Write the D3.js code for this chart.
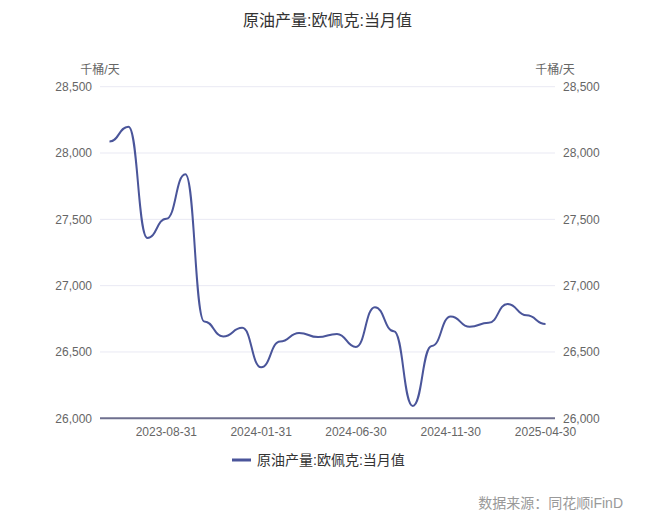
<!DOCTYPE html>
<html><head><meta charset="utf-8">
<script src="https://cdn.jsdelivr.net/npm/d3@7/dist/d3.min.js"></script>
<style>
html,body{margin:0;padding:0;background:#fff;}
svg{display:block;font-family:"Liberation Sans","Noto Sans CJK SC",sans-serif;}
</style></head>
<body><svg id="c" width="655" height="519"></svg>
<script>
const categories = ["2023-05-31","2023-06-30","2023-07-31","2023-08-31","2023-09-30","2023-10-31","2023-11-30","2023-12-31",
  "2024-01-31","2024-02-29","2024-03-31","2024-04-30","2024-05-31","2024-06-30","2024-07-31","2024-08-31","2024-09-30",
  "2024-10-31","2024-11-30","2024-12-31","2025-01-31","2025-02-28","2025-03-31","2025-04-30"];
const values = [28086,28199,27360,27505,27840,26730,26617,26682,26384,26579,26644,26612,26636,26538,26838,26656,26093,
  26545,26768,26690,26720,26862,26776,26711];
const xTickLabels = ["2023-08-31","2024-01-31","2024-06-30","2024-11-30","2025-04-30"];
const yTicks = [26000,26500,27000,27500,28000,28500];
const title = "原油产量:欧佩克:当月值";
const seriesName = "原油产量:欧佩克:当月值";
const unit = "千桶/天";
const source = "数据来源：同花顺iFinD";

const svg = d3.select("#c");
const L = 100, R = 555, T = 86.7, B = 418.3;
const x = d3.scalePoint().domain(categories).range([L, R]).padding(0.5);
const y = d3.scaleLinear().domain([26000, 28500]).range([B, T]);

// grid
svg.append("g").selectAll("line").data(yTicks.filter(v => v !== 26000)).join("line")
  .attr("x1", L).attr("x2", R).attr("y1", d => y(d)).attr("y2", d => y(d))
  .attr("stroke", "#e9e9f3").attr("stroke-width", 1);

// y labels left and right
const fmt = d3.format(",");
svg.append("g").selectAll("text").data(yTicks).join("text")
  .attr("x", L - 8).attr("y", d => y(d)).attr("dy", "0.35em").attr("text-anchor", "end")
  .attr("font-size", 12).attr("fill", "#666").text(d => fmt(d));
svg.append("g").selectAll("text").data(yTicks).join("text")
  .attr("x", R + 8).attr("y", d => y(d)).attr("dy", "0.35em").attr("text-anchor", "start")
  .attr("font-size", 12).attr("fill", "#666").text(d => fmt(d));

// axis names
svg.append("text").attr("x", L).attr("y", 70).attr("dy", "0.35em").attr("text-anchor", "middle")
  .attr("font-size", 12).attr("fill", "#666").text(unit);
svg.append("text").attr("x", R).attr("y", 70).attr("dy", "0.35em").attr("text-anchor", "middle")
  .attr("font-size", 12).attr("fill", "#666").text(unit);

// x axis line
svg.append("line").attr("x1", L).attr("x2", R).attr("y1", B).attr("y2", B)
  .attr("stroke", "#6e6f8e").attr("stroke-width", 2);

// x labels
svg.append("g").selectAll("text").data(xTickLabels).join("text")
  .attr("x", d => x(d)).attr("y", 432).attr("dy", "0.35em").attr("text-anchor", "middle")
  .attr("font-size", 12).attr("fill", "#666").text(d => d);

// line (horizontal tangents at each point, like the reference smoothing)
const line = d3.line().x((d, i) => x(categories[i])).y(d => y(d)).curve(d3.curveBumpX);
svg.append("path").datum(values).attr("d", line).attr("fill", "none")
  .attr("stroke", "#4a559a").attr("stroke-width", 2).attr("stroke-linejoin", "round");

// title
svg.append("text").attr("x", 327.5).attr("y", 20).attr("dy", "0.35em").attr("text-anchor", "middle")
  .attr("font-size", 16).attr("fill", "#333").text(title);

// legend
svg.append("line").attr("x1", 232).attr("x2", 251).attr("y1", 460).attr("y2", 460)
  .attr("stroke", "#4a559a").attr("stroke-width", 3);
svg.append("text").attr("x", 257).attr("y", 460).attr("dy", "0.35em")
  .attr("font-size", 14).attr("fill", "#333").text(seriesName);

// source
svg.append("text").attr("x", 623).attr("y", 503).attr("dy", "0.35em").attr("text-anchor", "end")
  .attr("font-size", 14).attr("fill", "#999").text(source);
</script></body></html>
